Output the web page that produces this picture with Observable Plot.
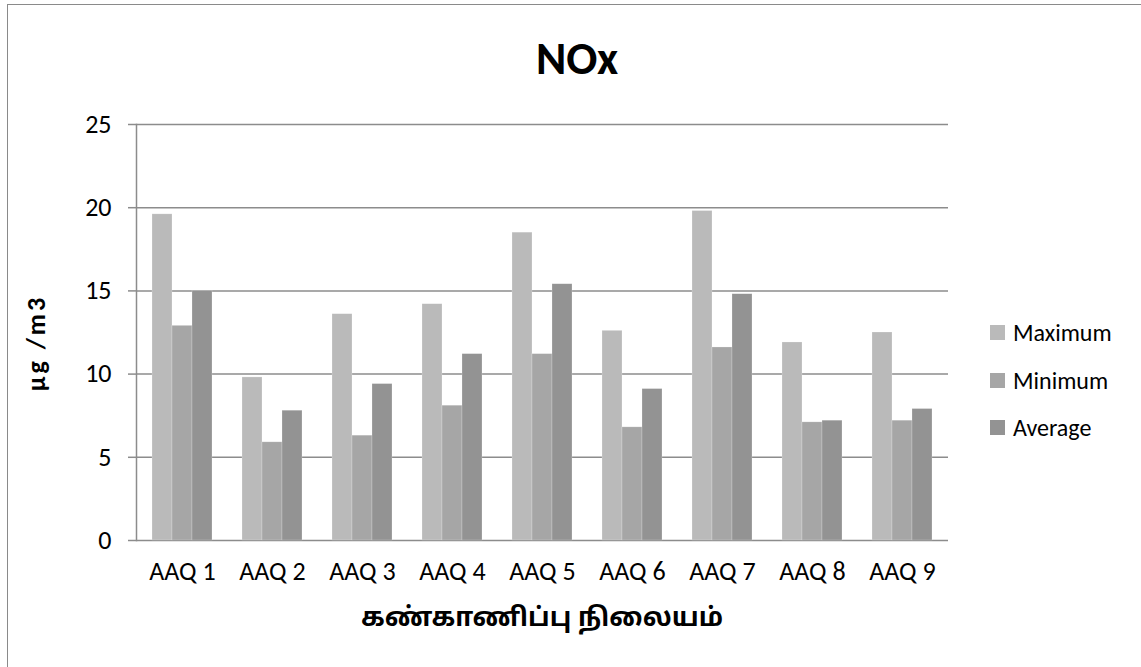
<!DOCTYPE html>
<html>
<head>
<meta charset="utf-8">
<script src="https://cdn.jsdelivr.net/npm/d3@7"></script>
<script src="https://cdn.jsdelivr.net/npm/@observablehq/plot@0.6"></script>
<style>
  html, body { margin: 0; padding: 0; background: #fff; }
  #wrap { position: relative; width: 1141px; height: 667px; overflow: hidden; font-family: Carlito, Lato, "Open Sans", sans-serif; }
  #frame { position: absolute; left: 7px; top: 4px; width: 1140px; height: 670px; border: 1px solid #8a8a8a; box-sizing: border-box; }
  #title { position: absolute; left: 477px; width: 200px; top: 33px; text-align: center; font-size: 46px; line-height: 50px; font-weight: bold; color: #000; }
  #ylabel { position: absolute; left: 36px; top: 343px; transform: translate(-50%, -50%) rotate(-90deg); font-size: 26px; letter-spacing: 3px; font-weight: bold; white-space: nowrap; }
  #xlabel { position: absolute; left: 342px; width: 400px; top: 602px; text-align: center; font-size: 26px; line-height: 36px; font-weight: bold; font-family: "Noto Sans Tamil", "Noto Sans", "Lohit Tamil", sans-serif; }
  #legend { position: absolute; left: 990px; top: 309px; }
  .li { display: flex; align-items: center; height: 47.5px; font-size: 24px; color: #000; }
  .sw { width: 15px; height: 15px; margin-right: 8px; }
  #chart { position: absolute; left: 0; top: 0; }
</style>
</head>
<body>
<div id="wrap">
  <div id="frame"></div>
  <div id="chart"></div>
  <div id="title">NOx</div>
  <div id="ylabel">µg /m3</div>
  <div id="xlabel">கண்காணிப்பு நிலையம்</div>
  <div id="legend"></div>
</div>
<script>
const stations = ["AAQ 1","AAQ 2","AAQ 3","AAQ 4","AAQ 5","AAQ 6","AAQ 7","AAQ 8","AAQ 9"];
const seriesNames = ["Maximum","Minimum","Average"];
const maximum = [19.6, 9.8, 13.6, 14.2, 18.5, 12.6, 19.8, 11.9, 12.5];
const minimum = [12.9, 5.9, 6.3, 8.1, 11.2, 6.8, 11.6, 7.1, 7.2];
const average = [15.0, 7.8, 9.4, 11.2, 15.4, 9.1, 14.8, 7.2, 7.9];
const yTicks = [0, 5, 10, 15, 20, 25];
const colors = ["#bababa", "#a6a6a6", "#939393"];

const seriesValues = [maximum, minimum, average];
const rows = seriesNames.map((n, j) => stations.map((s, i) => ({station: s, series: n, value: seriesValues[j][i]})));

// three bars share each station band (band width ≈ 60px → 20px per bar)
const insets = [
  {insetLeft: 0, insetRight: 40},
  {insetLeft: 20, insetRight: 20},
  {insetLeft: 40, insetRight: 0}
];

const chart = Plot.plot({
  width: 1141,
  height: 667,
  marginLeft: 136,
  marginRight: 193,
  marginTop: 124,
  marginBottom: 127,
  style: {fontFamily: "Carlito, Lato, 'Open Sans', sans-serif", color: "#000", background: "transparent", overflow: "visible"},
  x: {domain: stations, paddingInner: 0.335, paddingOuter: 0.1675, label: null},
  y: {domain: [0, 25], label: null},
  marks: [
    Plot.ruleY(yTicks, {stroke: "#8c8c8c", strokeWidth: 1.5}),
    ...rows.map((r, j) => Plot.barY(r, {x: "station", y: "value", fill: colors[j], stroke: "#ffffff", strokeOpacity: 0.35, strokeWidth: 0.6, ...insets[j]})),
    Plot.axisX({anchor: "bottom", tickSize: 0, tickPadding: 21, fontSize: 26, label: null}),
    Plot.axisY({ticks: yTicks, anchor: "left", tickSize: 8, tickPadding: 17, stroke: "#8c8c8c", strokeWidth: 1.5, fontSize: 26, label: null}),
    Plot.frame({anchor: "left", stroke: "#8c8c8c", strokeWidth: 1.5})
  ]
});
document.getElementById("chart").appendChild(chart);

const legend = document.getElementById("legend");
seriesNames.forEach((n, j) => {
  const row = document.createElement("div");
  row.className = "li";
  const sw = document.createElement("div");
  sw.className = "sw";
  sw.style.background = colors[j];
  const t = document.createElement("span");
  t.textContent = n;
  row.appendChild(sw);
  row.appendChild(t);
  legend.appendChild(row);
});
</script>
</body>
</html>
